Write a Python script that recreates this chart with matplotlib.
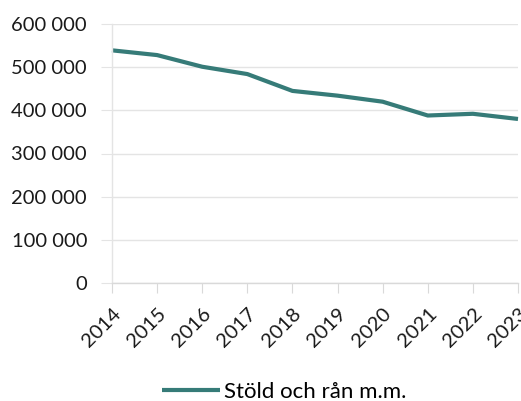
import matplotlib
matplotlib.use("Agg")
import matplotlib.pyplot as plt
from matplotlib.ticker import FuncFormatter

years = ["2014", "2015", "2016", "2017", "2018", "2019", "2020", "2021", "2022", "2023"]
stold_ran = [539000, 528000, 501000, 484000, 445000, 434000, 420000, 388000, 392000, 380000]
y_ticks = [0, 100000, 200000, 300000, 400000, 500000, 600000]

line_color = "#367b78"
grid_color = "#e4e4e4"

plt.rcParams["font.family"] = ["Lato", "DejaVu Sans"]

fig = plt.figure(figsize=(5.21, 4.01), dpi=100)
ax = fig.add_axes([112 / 521, 1 - 283 / 401, (518 - 112) / 521, (283 - 24) / 401])

x = list(range(len(years)))
ax.plot(x, stold_ran, color=line_color, lw=3.0, solid_capstyle="butt",
        label="Stöld och rån m.m.", clip_on=False)

ax.set_xlim(0, len(years) - 1)
ax.set_ylim(0, 600000)
ax.set_yticks(y_ticks)
ax.yaxis.set_major_formatter(FuncFormatter(lambda v, p: f"{int(v):,}".replace(",", " ")))
ax.set_xticks(x)
ax.set_xticklabels(years, rotation=45, ha="right", rotation_mode="anchor")

ax.grid(axis="y", color=grid_color, lw=1)
ax.set_axisbelow(True)
for side in ["top", "right"]:
    ax.spines[side].set_visible(False)
ax.spines["left"].set_color(grid_color)
ax.spines["bottom"].set_color("#d9d9d9")
ax.spines["left"].set_linewidth(1)
ax.spines["bottom"].set_linewidth(1)

ax.tick_params(axis="y", length=8, color=grid_color, labelsize=14.5, pad=10, labelcolor="#1a1a1a")
ax.tick_params(axis="x", length=7, color="#d9d9d9", labelsize=14.5, pad=9, labelcolor="#1a1a1a")

fig.legend(loc="center", bbox_to_anchor=(0.546, 0.022), frameon=False,
           fontsize=16, handlelength=2.6, handletextpad=0.2)

fig.savefig("out.png", dpi=100)
